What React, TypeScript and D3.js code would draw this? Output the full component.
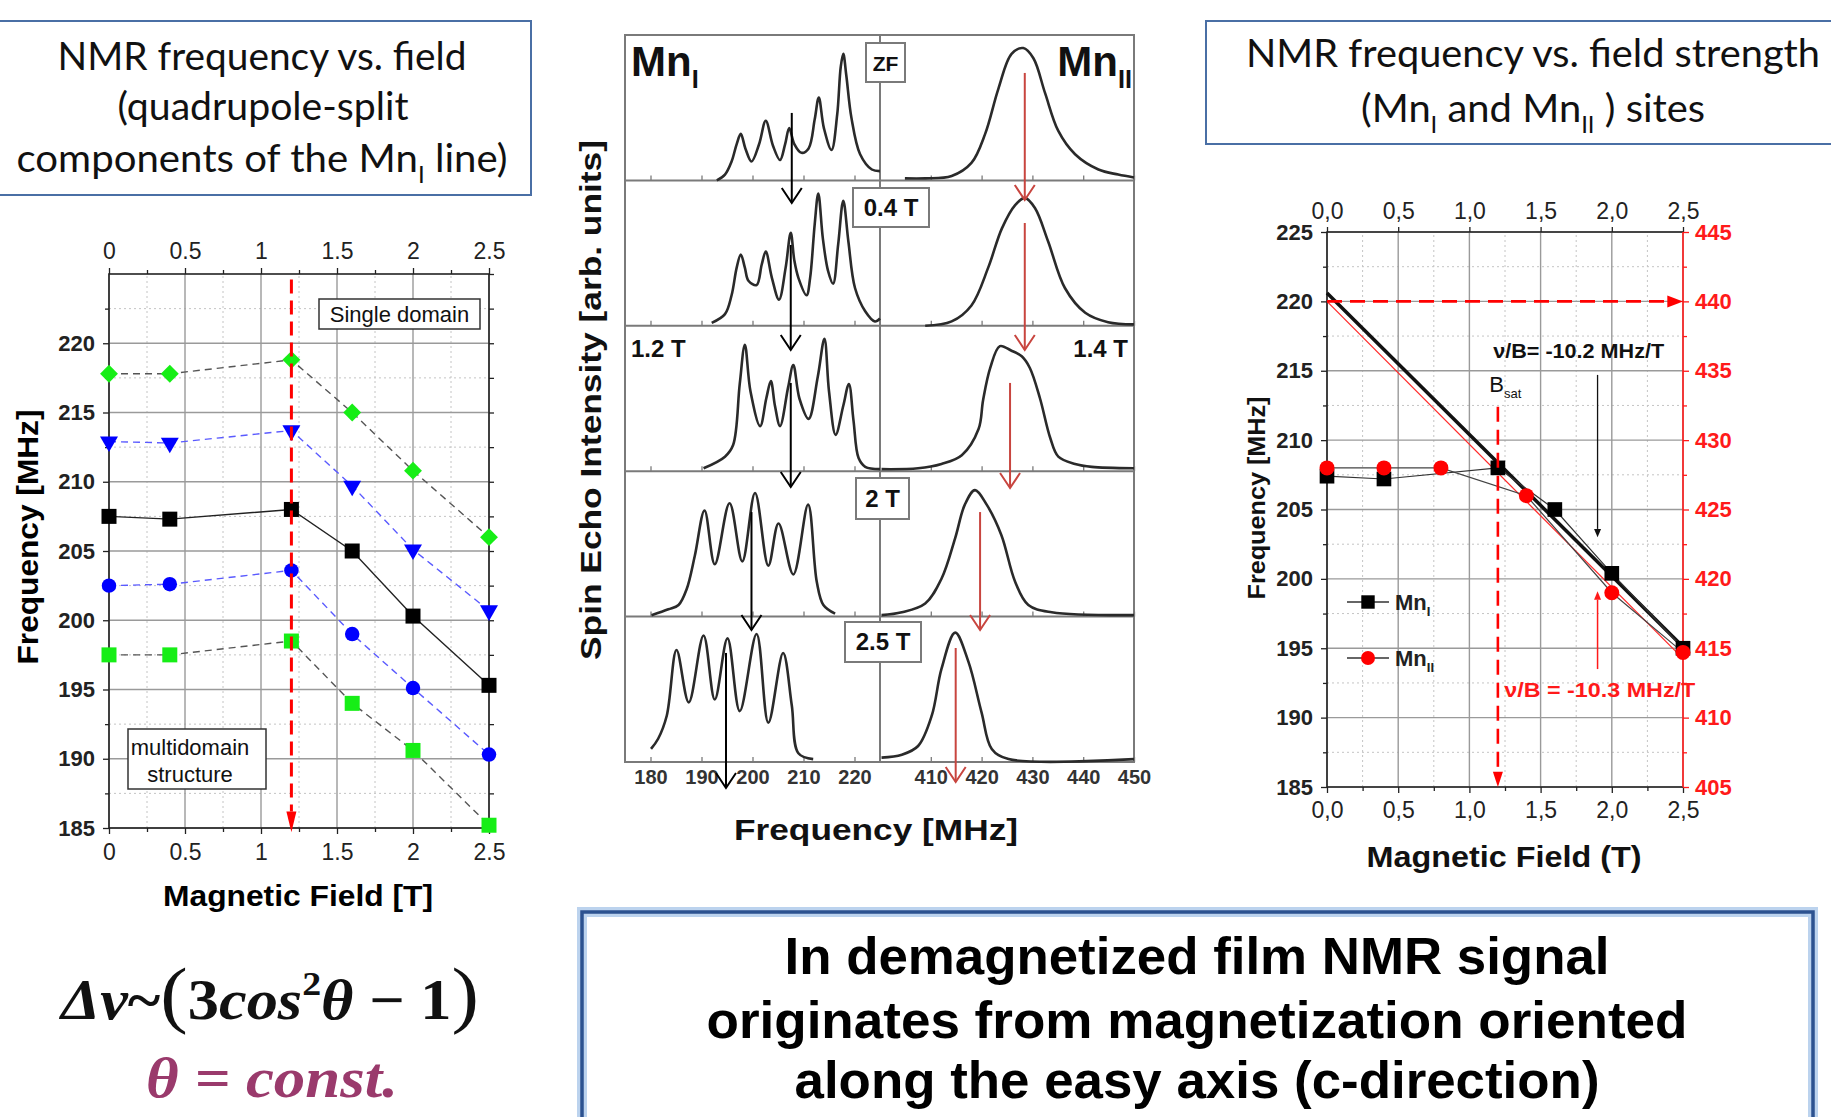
import React, { useEffect, useRef } from "react";
import * as d3 from "d3";

// ---- left chart: quadrupole-split components of the Mn_I line ----
const fieldQ = [0, 0.4, 1.2, 1.6, 2.0, 2.5];
const qGreenDiamond = [217.8, 217.8, 218.8, 215.0, 210.8, 206.0];
const qBlueTriangle = [212.9, 212.8, 213.7, 209.7, 205.1, 200.7];
const qBlackSquare = [207.5, 207.3, 208.0, 205.0, 200.3, 195.3];
const qBlueCircle = [202.5, 202.6, 203.6, 199.0, 195.1, 190.3];
const qGreenSquare = [197.5, 197.5, 198.5, 194.0, 190.6, 185.2];
const fieldTicksQ = [0, 0.5, 1, 1.5, 2, 2.5];
const freqTicksQ = [185, 190, 195, 200, 205, 210, 215, 220];
const bSat = 1.2;

// ---- middle: spin echo spectra (freq MHz, relative intensity in row) ----
const spectraLabels = ["ZF", "0.4 T", "1.2 T", "2 T", "2.5 T"];
const mnI_ZF = [[193.0, 0], [194.6, 0.04], [195.9, 0.13], [196.9, 0.25], [197.7, 0.32], [198.6, 0.22], [199.8, 0.13], [201.3, 0.25], [202.6, 0.41], [204.0, 0.24], [205.4, 0.14], [206.4, 0.25], [207.2, 0.36], [208.2, 0.25], [209.6, 0.19], [211.0, 0.22], [212.2, 0.42], [213.0, 0.57], [214.0, 0.36], [215.5, 0.21], [216.6, 0.45], [217.3, 0.78], [217.8, 0.87], [218.4, 0.72], [219.4, 0.43], [221.1, 0.18], [223.4, 0.075], [225, 0.064]];
const mnI_04 = [[192.0, 0.02], [194.6, 0.08], [195.9, 0.21], [196.9, 0.4], [197.7, 0.49], [198.5, 0.4], [199.2, 0.31], [200.8, 0.28], [201.8, 0.42], [202.6, 0.51], [203.8, 0.33], [205.2, 0.18], [206.5, 0.4], [207.5, 0.64], [208.2, 0.45], [209.0, 0.33], [210.6, 0.21], [211.3, 0.33], [212.2, 0.7], [212.9, 0.91], [213.8, 0.6], [214.8, 0.38], [215.8, 0.29], [216.8, 0.56], [217.8, 0.86], [218.8, 0.58], [220.1, 0.26], [222.1, 0.1], [224.0, 0.03], [225, 0.05]];
const mnI_12 = [[190.4, 0.02], [194.6, 0.1], [196.2, 0.18], [197.5, 0.6], [198.5, 0.87], [199.6, 0.55], [201.5, 0.31], [202.7, 0.5], [203.6, 0.62], [204.4, 0.45], [205.4, 0.31], [207.0, 0.58], [208.0, 0.73], [209.2, 0.5], [211.0, 0.36], [212.8, 0.65], [214.1, 0.91], [215.0, 0.55], [216.3, 0.25], [217.8, 0.45], [218.9, 0.6], [219.8, 0.35], [220.8, 0.09], [222.1, 0.03], [225, 0.014]];
const mnI_20 = [[180.2, 0.01], [183.5, 0.05], [185.5, 0.08], [187.1, 0.19], [188.7, 0.42], [190.6, 0.73], [192.6, 0.36], [195.5, 0.78], [198.0, 0.38], [200.5, 0.85], [203.1, 0.35], [205.1, 0.64], [208.0, 0.29], [210.9, 0.77], [212.6, 0.24], [213.9, 0.08], [216.2, 0.02]];
const mnI_25 = [[180.1, 0.09], [181.5, 0.16], [183.2, 0.32], [185.1, 0.77], [187.5, 0.41], [190.4, 0.87], [192.6, 0.43], [195.1, 0.85], [197.5, 0.35], [200.8, 0.88], [203.1, 0.27], [206.0, 0.75], [207.7, 0.39], [209.0, 0.06], [211.9, 0.02]];
const mnII_ZF = [[404.9, 0.014], [408.9, 0.014], [414.1, 0.03], [418.0, 0.12], [420.7, 0.32], [423.3, 0.63], [425.9, 0.87], [428.2, 0.91], [430.2, 0.84], [432.5, 0.6], [435.1, 0.34], [438.4, 0.18], [443.0, 0.075], [446.9, 0.04], [450, 0.02]];
const mnII_04 = [[408.9, 0.0], [414.1, 0.03], [418.0, 0.14], [421.3, 0.4], [424.0, 0.67], [426.6, 0.83], [428.5, 0.88], [430.5, 0.81], [433.1, 0.58], [436.4, 0.26], [440.4, 0.09], [444.9, 0.025], [450, 0.01]];
const mnII_12 = [[400.3, 0.014], [407.5, 0.02], [412.1, 0.05], [416.1, 0.11], [419.4, 0.29], [420.3, 0.49], [421.7, 0.71], [423.6, 0.86], [425.8, 0.83], [427.9, 0.79], [429.5, 0.71], [431.5, 0.5], [433.5, 0.23], [435.1, 0.1], [438.4, 0.05], [441.7, 0.03], [450, 0.02]];
const mnII_20 = [[400.3, 0.01], [404.3, 0.03], [408.9, 0.09], [412.1, 0.26], [414.8, 0.54], [416.7, 0.77], [418.7, 0.87], [421.0, 0.77], [423.9, 0.56], [426.6, 0.24], [429.2, 0.08], [433.8, 0.03], [450, 0.01]];
const mnII_25 = [[400.3, 0.03], [404.3, 0.05], [407.5, 0.11], [410.2, 0.32], [412.1, 0.64], [414.8, 0.89], [417.4, 0.69], [420.0, 0.34], [422.0, 0.09], [425.3, 0.02], [450, 0.02]];
const mnISpectra = [mnI_ZF, mnI_04, mnI_12, mnI_20, mnI_25];
const mnIISpectra = [mnII_ZF, mnII_04, mnII_12, mnII_20, mnII_25];
const mnITicks = [180, 190, 200, 210, 220];
const mnIITicks = [410, 420, 430, 440, 450];
// [freq, start, end] with start/end in row units (0 = top of first row)
const mnIArrows = [[207.7, 0.536, 1.155], [207.5, 1.444, 2.166], [207.5, 2.393, 3.109], [199.8, 3.281, 4.092], [194.8, 4.25, 5.179]];
const mnIIArrows = [[428.5, 0.261, 1.135], [428.5, 1.293, 2.166], [425.6, 2.393, 3.116], [419.7, 3.281, 4.092], [414.9, 4.216, 5.138]];

// ---- right chart: Mn_I and Mn_II vs field ----
const fieldI = [0, 0.4, 1.2, 1.6, 2.0, 2.5];
const freqI = [207.4, 207.2, 208.0, 205.0, 200.4, 195.0];
const fieldII = [0, 0.4, 0.8, 1.4, 2.0, 2.5];
const freqII = [428.0, 428.0, 428.0, 426.0, 419.0, 414.7];
const fitI = [[0, 220.6], [2.5, 195.1]];
const fitII = [[0, 440.0], [2.5, 414.25]];
const fieldTicksR = [0, 0.5, 1, 1.5, 2, 2.5];
const freqTicksR = [185, 190, 195, 200, 205, 210, 215, 220, 225];
const freqTicksR2 = [405, 410, 415, 420, 425, 430, 435, 440, 445];

const ARIAL = "'Liberation Sans', Arial, sans-serif";
const CALIBRI = "Lato, 'Open Sans', sans-serif";
const SERIF = "'Liberation Serif', 'DejaVu Serif', serif";

function richText(g, x, y, parts, size, anchor = "start") {
  const t = g.append("text").attr("x", x).attr("y", y).attr("font-size", size).attr("text-anchor", anchor);
  let cur = 0;
  parts.forEach(([s, sub]) => {
    const shift = sub ? size * 0.28 : 0;
    t.append("tspan").attr("dy", shift - cur).attr("font-size", sub ? size * 0.6 : size).text(s);
    cur = shift;
  });
  return t;
}

function drawGrid(g, x, y, xMaj, xMin, yMaj, yMin) {
  const [y0, y1] = y.range();
  const [x0, x1] = x.range();
  xMin.forEach((v) =>
    g.append("line").attr("x1", x(v)).attr("x2", x(v)).attr("y1", y0).attr("y2", y1)
      .attr("stroke", "#c4c4c4").attr("stroke-dasharray", "2,3"));
  yMin.forEach((v) =>
    g.append("line").attr("x1", x0).attr("x2", x1).attr("y1", y(v)).attr("y2", y(v))
      .attr("stroke", "#c4c4c4").attr("stroke-dasharray", "2,3"));
  xMaj.forEach((v) =>
    g.append("line").attr("x1", x(v)).attr("x2", x(v)).attr("y1", y0).attr("y2", y1)
      .attr("stroke", "#9a9a9a").attr("stroke-width", 1.4));
  yMaj.forEach((v) =>
    g.append("line").attr("x1", x0).attr("x2", x1).attr("y1", y(v)).attr("y2", y(v))
      .attr("stroke", "#9a9a9a").attr("stroke-width", 1.4));
}

function styleAxis(sel, size, weight, color = "#222") {
  sel.select(".domain").remove();
  sel.attr("font-size", size).attr("font-family", ARIAL).attr("font-weight", weight);
  sel.selectAll("line").attr("stroke", color).attr("stroke-width", 1.3);
  sel.selectAll("text").attr("fill", color);
}

function marker(kind) {
  if (kind === "square") return d3.symbol(d3.symbolSquare, 225)();
  if (kind === "diamond") return d3.symbol(d3.symbolSquare, 160)();
  if (kind === "triangle") return d3.symbol(d3.symbolTriangle, 140)();
  return d3.symbol(d3.symbolCircle, 165)();
}

function drawLeftChart(svg) {
  const x = d3.scaleLinear().domain([0, 2.5]).range([109, 489]);
  const y = d3.scaleLinear().domain([185, 225]).range([828, 274]);
  const g = svg.append("g");
  drawGrid(g, x, y, fieldTicksQ, d3.range(0.25, 2.5, 0.5), freqTicksQ, d3.range(187.5, 225, 5));

  const fmt = (d) => String(d);
  g.append("g").attr("transform", `translate(0,${y(225)})`)
    .call(d3.axisTop(x).tickValues(fieldTicksQ).tickFormat(fmt).tickSize(6).tickPadding(9))
    .call((s) => styleAxis(s, 23, "normal"));
  g.append("g").attr("transform", `translate(0,${y(185)})`)
    .call(d3.axisBottom(x).tickValues(fieldTicksQ).tickFormat(fmt).tickSize(6).tickPadding(10))
    .call((s) => styleAxis(s, 23, "normal"));
  g.append("g").attr("transform", `translate(${x(0)},0)`)
    .call(d3.axisLeft(y).tickValues(freqTicksQ).tickSize(6).tickPadding(8))
    .call((s) => styleAxis(s, 22, "bold"));
  g.append("g").attr("transform", `translate(${x(2.5)},0)`)
    .call(d3.axisRight(y).tickValues(d3.range(185, 226, 2.5)).tickFormat(() => "").tickSize(5))
    .call((s) => styleAxis(s, 22, "normal"));
  [y(225), y(185)].forEach((py, i) =>
    g.append("g").attr("transform", `translate(0,${py})`)
      .call((i ? d3.axisBottom(x) : d3.axisTop(x)).tickValues(d3.range(0.25, 2.5, 0.5)).tickFormat(() => "").tickSize(4))
      .call((s) => styleAxis(s, 10, "normal")));
  g.append("g").attr("transform", `translate(${x(0)},0)`)
    .call(d3.axisLeft(y).tickValues(d3.range(187.5, 225, 5)).tickFormat(() => "").tickSize(4))
    .call((s) => styleAxis(s, 10, "normal"));
  g.append("rect").attr("x", x(0)).attr("y", y(225)).attr("width", x(2.5) - x(0)).attr("height", y(185) - y(225))
    .attr("fill", "none").attr("stroke", "#222").attr("stroke-width", 1.6);

  const series = [
    { vals: qGreenDiamond, color: "#16ee16", line: "#555", dash: "7,5", kind: "diamond" },
    { vals: qBlueTriangle, color: "#0000ff", line: "#5a5aff", dash: "7,5", kind: "triangle" },
    { vals: qBlackSquare, color: "#000", line: "#222", dash: null, kind: "square" },
    { vals: qBlueCircle, color: "#0000ff", line: "#5a5aff", dash: "7,5", kind: "circle" },
    { vals: qGreenSquare, color: "#16ee16", line: "#555", dash: "7,5", kind: "square" },
  ];
  const line = d3.line().x((d) => x(d[0])).y((d) => y(d[1]));
  series.forEach((s) => {
    const pts = fieldQ.map((f, i) => [f, s.vals[i]]);
    g.append("path").attr("d", line(pts)).attr("fill", "none").attr("stroke", s.line)
      .attr("stroke-width", 1.4).attr("stroke-dasharray", s.dash);
    const rot = s.kind === "diamond" ? 45 : s.kind === "triangle" ? 180 : 0;
    pts.forEach((p) =>
      g.append("path").attr("d", marker(s.kind)).attr("fill", s.color)
        .attr("transform", `translate(${x(p[0])},${y(p[1])}) rotate(${rot})`));
  });

  // B_sat marker line
  const bx = x(bSat);
  g.append("line").attr("x1", bx).attr("x2", bx).attr("y1", y(224.6)).attr("y2", y(186.2))
    .attr("stroke", "#ff0000").attr("stroke-width", 3).attr("stroke-dasharray", "14,7");
  g.append("path").attr("d", `M${bx - 5},${y(186.2)}L${bx + 5},${y(186.2)}L${bx},${y(184.7)}Z`).attr("fill", "#ff0000");

  const boxes = g.append("g").attr("font-family", ARIAL).attr("font-size", 22).attr("fill", "#111");
  boxes.append("rect").attr("x", 319).attr("y", 299).attr("width", 161).attr("height", 30)
    .attr("fill", "#fff").attr("stroke", "#333").attr("stroke-width", 1.5);
  boxes.append("text").attr("x", 399.5).attr("y", 322).attr("text-anchor", "middle").text("Single domain");
  boxes.append("rect").attr("x", 128).attr("y", 729).attr("width", 138).attr("height", 60)
    .attr("fill", "#fff").attr("stroke", "#333").attr("stroke-width", 1.5);
  boxes.append("text").attr("x", 190).attr("y", 755).attr("text-anchor", "middle").text("multidomain");
  boxes.append("text").attr("x", 190).attr("y", 782).attr("text-anchor", "middle").text("structure");

  svg.append("text").attr("x", 298).attr("y", 906).attr("text-anchor", "middle")
    .attr("font-family", ARIAL).attr("font-weight", "bold").attr("font-size", 29)
    .attr("textLength", 270).attr("lengthAdjust", "spacingAndGlyphs").text("Magnetic Field [T]");
  svg.append("text").attr("transform", "translate(38,537) rotate(-90)").attr("text-anchor", "middle")
    .attr("font-family", ARIAL).attr("font-weight", "bold").attr("font-size", 29)
    .attr("textLength", 255).attr("lengthAdjust", "spacingAndGlyphs").text("Frequency [MHz]");
}

function drawSpectra(svg) {
  const xI = d3.scaleLinear().domain([175, 225]).range([625, 880]);
  const xII = d3.scaleLinear().domain([400, 450]).range([880, 1134]);
  const rowY = d3.scaleLinear().domain([0, 5]).range([35, 762]);
  const g = svg.append("g");

  // frame and row separators
  g.append("rect").attr("x", 625).attr("y", rowY(0)).attr("width", 509).attr("height", rowY(5) - rowY(0))
    .attr("fill", "none").attr("stroke", "#7a7a7a").attr("stroke-width", 2);
  g.append("line").attr("x1", xI(225)).attr("x2", xI(225)).attr("y1", rowY(0)).attr("y2", rowY(5))
    .attr("stroke", "#7a7a7a").attr("stroke-width", 2);
  d3.range(1, 6).forEach((r) => {
    if (r < 5)
      g.append("line").attr("x1", 625).attr("x2", 1134).attr("y1", rowY(r)).attr("y2", rowY(r))
        .attr("stroke", "#7a7a7a").attr("stroke-width", 2);
    [[xI, mnITicks], [xII, mnIITicks]].forEach(([sc, tv]) => {
      const ax = g.append("g").attr("transform", `translate(0,${rowY(r)})`)
        .call(d3.axisBottom(sc).tickValues(tv).tickSizeInner(-5).tickSizeOuter(0).tickPadding(8)
          .tickFormat(r === 5 ? (d) => String(d) : () => ""));
      styleAxis(ax, 20, "bold", "#333");
      ax.selectAll("line").attr("stroke", "#7a7a7a");
    });
  });

  const curves = g.append("g").attr("fill", "none").attr("stroke", "#2a2a2a").attr("stroke-width", 2.6);
  d3.range(5).forEach((r) => {
    const yr = d3.scaleLinear().domain([0, 1]).range([rowY(r + 1), rowY(r)]);
    const lI = d3.line().x((d) => xI(d[0])).y((d) => yr(d[1])).curve(d3.curveCatmullRom.alpha(0.5));
    const lII = d3.line().x((d) => xII(d[0])).y((d) => yr(d[1])).curve(d3.curveCatmullRom.alpha(0.5));
    curves.append("path").attr("d", lI(mnISpectra[r]));
    curves.append("path").attr("d", lII(mnIISpectra[r]));
  });

  const arrow = (sc, a, color) => {
    const ax = sc(a[0]);
    const y0 = rowY(a[1]);
    const y1 = rowY(a[2]);
    g.append("line").attr("x1", ax).attr("x2", ax).attr("y1", y0).attr("y2", y1)
      .attr("stroke", color).attr("stroke-width", 2);
    g.append("path").attr("d", `M${ax - 10},${y1 - 15}L${ax},${y1}L${ax + 10},${y1 - 15}`)
      .attr("fill", "none").attr("stroke", color).attr("stroke-width", 2);
  };
  mnIArrows.forEach((a) => arrow(xI, a, "#000"));
  mnIIArrows.forEach((a) => arrow(xII, a, "#c8453f"));

  // field labels
  const lab = g.append("g").attr("font-family", ARIAL).attr("font-weight", "bold").attr("fill", "#111");
  const boxed = [
    [spectraLabels[0], 866, 43, 39, 39],
    [spectraLabels[1], 853, 188, 76, 39],
    [spectraLabels[3], 856, 478, 53, 41],
    [spectraLabels[4], 845, 622, 76, 40],
  ];
  boxed.forEach(([t, bx, by, bw, bh]) => {
    lab.append("rect").attr("x", bx).attr("y", by).attr("width", bw).attr("height", bh)
      .attr("fill", "#fff").attr("stroke", "#7a7a7a").attr("stroke-width", 2);
    lab.append("text").attr("x", bx + bw / 2).attr("y", by + bh / 2 + 8).attr("text-anchor", "middle")
      .attr("font-size", t === "ZF" ? 21 : 24).text(t);
  });
  lab.append("text").attr("x", 631).attr("y", 357).attr("font-size", 24).text(spectraLabels[2]);
  lab.append("text").attr("x", 1128).attr("y", 357).attr("font-size", 24).attr("text-anchor", "end").text("1.4 T");
  richText(lab, 631, 76, [["Mn", false], ["I", true]], 42);
  richText(lab, 1132, 76, [["Mn", false], ["II", true]], 42, "end");

  svg.append("text").attr("x", 876).attr("y", 840).attr("text-anchor", "middle")
    .attr("font-family", ARIAL).attr("font-weight", "bold").attr("font-size", 30).attr("fill", "#111")
    .attr("textLength", 284).attr("lengthAdjust", "spacingAndGlyphs").text("Frequency [MHz]");
  svg.append("text").attr("transform", "translate(601,400) rotate(-90)").attr("text-anchor", "middle")
    .attr("font-family", ARIAL).attr("font-weight", "bold").attr("font-size", 30).attr("fill", "#111")
    .attr("textLength", 520).attr("lengthAdjust", "spacingAndGlyphs").text("Spin Echo Intensity [arb. units]");
}

function drawRightChart(svg) {
  const x = d3.scaleLinear().domain([0, 2.5]).range([1327, 1683]);
  const y = d3.scaleLinear().domain([185, 225]).range([787, 232]);
  const y2 = d3.scaleLinear().domain([405, 445]).range([787, 232]);
  const g = svg.append("g");
  drawGrid(g, x, y, fieldTicksR, d3.range(0.25, 2.5, 0.5), freqTicksR, d3.range(187.5, 225, 5));

  const fmt = (d) => d3.format(".1f")(d).replace(".", ",");
  g.append("g").attr("transform", `translate(0,${y(225)})`)
    .call(d3.axisTop(x).tickValues(fieldTicksR).tickFormat(fmt).tickSize(5).tickPadding(8))
    .call((s) => styleAxis(s, 23, "normal"));
  g.append("g").attr("transform", `translate(0,${y(185)})`)
    .call(d3.axisBottom(x).tickValues(fieldTicksR).tickFormat(fmt).tickSize(6).tickPadding(9))
    .call((s) => styleAxis(s, 23, "normal"));
  g.append("g").attr("transform", `translate(0,${y(185)})`)
    .call(d3.axisBottom(x).tickValues(d3.range(0.25, 2.5, 0.5)).tickFormat(() => "").tickSize(4))
    .call((s) => styleAxis(s, 10, "normal"));
  g.append("g").attr("transform", `translate(${x(0)},0)`)
    .call(d3.axisLeft(y).tickValues(freqTicksR).tickSize(6).tickPadding(8))
    .call((s) => styleAxis(s, 22, "bold"));
  g.append("g").attr("transform", `translate(${x(0)},0)`)
    .call(d3.axisLeft(y).tickValues(d3.range(187.5, 225, 5)).tickFormat(() => "").tickSize(4))
    .call((s) => styleAxis(s, 10, "normal"));
  g.append("g").attr("transform", `translate(${x(2.5)},0)`)
    .call(d3.axisRight(y2).tickValues(freqTicksR2).tickSize(6).tickPadding(6))
    .call((s) => styleAxis(s, 22, "bold", "#ff1a1a"));
  g.append("g").attr("transform", `translate(${x(2.5)},0)`)
    .call(d3.axisRight(y2).tickValues(d3.range(407.5, 445, 5)).tickFormat(() => "").tickSize(4))
    .call((s) => styleAxis(s, 10, "normal", "#ff1a1a"));
  g.append("path").attr("d", `M${x(2.5)},${y(225)}H${x(0)}V${y(185)}H${x(2.5)}`)
    .attr("fill", "none").attr("stroke", "#222").attr("stroke-width", 1.6);
  g.append("line").attr("x1", x(2.5)).attr("x2", x(2.5)).attr("y1", y(225)).attr("y2", y(185))
    .attr("stroke", "#ff1a1a").attr("stroke-width", 1.6);

  const lineI = d3.line().x((d) => x(d[0])).y((d) => y(d[1]));
  const lineII = d3.line().x((d) => x(d[0])).y((d) => y2(d[1]));
  g.append("path").attr("d", lineI(fitI)).attr("stroke", "#111").attr("stroke-width", 3.5).attr("fill", "none");
  g.append("path").attr("d", lineII(fitII)).attr("stroke", "#ff2a2a").attr("stroke-width", 1.3).attr("fill", "none");
  const ptsI = fieldI.map((f, i) => [f, freqI[i]]);
  const ptsII = fieldII.map((f, i) => [f, freqII[i]]);
  g.append("path").attr("d", lineI(ptsI)).attr("stroke", "#333").attr("stroke-width", 1.2).attr("fill", "none");
  g.append("path").attr("d", lineII(ptsII)).attr("stroke", "#444").attr("stroke-width", 1.2).attr("fill", "none");
  ptsI.forEach((p) =>
    g.append("path").attr("d", d3.symbol(d3.symbolSquare, 215)()).attr("fill", "#000")
      .attr("transform", `translate(${x(p[0])},${y(p[1])})`));
  ptsII.forEach((p) =>
    g.append("circle").attr("cx", x(p[0])).attr("cy", y2(p[1])).attr("r", 7.5).attr("fill", "#ff0000"));

  // dashed guides at 220 MHz and B_sat
  g.append("line").attr("x1", x(0)).attr("x2", x(2.42)).attr("y1", y(220)).attr("y2", y(220))
    .attr("stroke", "#ff0000").attr("stroke-width", 2.6).attr("stroke-dasharray", "15,8");
  g.append("path").attr("d", `M${x(2.39)},${y(220) - 6}L${x(2.5)},${y(220)}L${x(2.39)},${y(220) + 6}Z`).attr("fill", "#ff0000");
  g.append("line").attr("x1", x(bSat)).attr("x2", x(bSat)).attr("y1", y(212.4)).attr("y2", y(186))
    .attr("stroke", "#ff0000").attr("stroke-width", 2.6).attr("stroke-dasharray", "15,8");
  g.append("path").attr("d", `M${x(bSat) - 5},${y(186.1)}L${x(bSat) + 5},${y(186.1)}L${x(bSat)},${y(185)}Z`).attr("fill", "#ff0000");

  // slope annotations
  const ann = g.append("g").attr("font-family", ARIAL).attr("font-weight", "bold");
  ann.append("text").attr("x", x(1.167)).attr("y", y(215.9)).attr("font-size", 20).attr("fill", "#111")
    .attr("textLength", 171).attr("lengthAdjust", "spacingAndGlyphs").text("ν/B= -10.2 MHz/T");
  ann.append("text").attr("x", x(1.245)).attr("y", y(191.5)).attr("font-size", 21).attr("fill", "#ff1a1a")
    .attr("textLength", 191).attr("lengthAdjust", "spacingAndGlyphs").text("ν/B = -10.3 MHz/T");
  const bs = richText(ann.append("g").attr("fill", "#111").attr("font-weight", "normal"), x(1.14), y(213.5), [["B", false], ["sat", true]], 22);
  bs.select("tspan:last-child").attr("font-size", 13);
  g.append("line").attr("x1", x(1.9)).attr("x2", x(1.9)).attr("y1", y(214.7)).attr("y2", y(203.6))
    .attr("stroke", "#111").attr("stroke-width", 1.3);
  g.append("path").attr("d", `M${x(1.9) - 3.5},${y(203.6)}L${x(1.9) + 3.5},${y(203.6)}L${x(1.9)},${y(203.0)}Z`).attr("fill", "#111");
  g.append("line").attr("x1", x(1.9)).attr("x2", x(1.9)).attr("y1", y(193.5)).attr("y2", y(198.5))
    .attr("stroke", "#ff1a1a").attr("stroke-width", 1.5);
  g.append("path").attr("d", `M${x(1.9) - 3.5},${y(198.5)}L${x(1.9) + 3.5},${y(198.5)}L${x(1.9)},${y(199.1)}Z`).attr("fill", "#ff1a1a");

  // legend
  const lg = g.append("g").attr("font-family", ARIAL).attr("font-weight", "bold").attr("fill", "#222");
  [[602, "I"], [658, "II"]].forEach(([ly, sub], i) => {
    lg.append("line").attr("x1", 1347).attr("x2", 1389).attr("y1", ly).attr("y2", ly).attr("stroke", "#333").attr("stroke-width", 1.3);
    if (i === 0)
      lg.append("path").attr("d", d3.symbol(d3.symbolSquare, 180)()).attr("transform", `translate(1368,${ly})`).attr("fill", "#000");
    else lg.append("circle").attr("cx", 1368).attr("cy", ly).attr("r", 7).attr("fill", "#ff0000");
    richText(lg, 1395, ly + 8, [["Mn", false], [sub, true]], 22);
  });

  svg.append("text").attr("x", 1504).attr("y", 867).attr("text-anchor", "middle")
    .attr("font-family", ARIAL).attr("font-weight", "bold").attr("font-size", 29).attr("fill", "#111")
    .attr("textLength", 275).attr("lengthAdjust", "spacingAndGlyphs").text("Magnetic Field (T)");
  svg.append("text").attr("transform", "translate(1265,498) rotate(-90)").attr("text-anchor", "middle")
    .attr("font-family", ARIAL).attr("font-weight", "bold").attr("font-size", 24).attr("fill", "#111")
    .attr("textLength", 203).attr("lengthAdjust", "spacingAndGlyphs").text("Frequency [MHz]");
}

function drawTexts(svg) {
  // title boxes
  const tb = svg.append("g").attr("font-family", CALIBRI).attr("fill", "#111");
  tb.append("rect").attr("x", -2).attr("y", 21).attr("width", 533).attr("height", 174)
    .attr("fill", "#fff").attr("stroke", "#4a6fa5").attr("stroke-width", 2);
  tb.append("text").attr("x", 262).attr("y", 70).attr("text-anchor", "middle").attr("font-size", 38)
    .attr("textLength", 409).attr("lengthAdjust", "spacingAndGlyphs").text("NMR frequency vs. field");
  tb.append("text").attr("x", 263).attr("y", 120).attr("text-anchor", "middle").attr("font-size", 38)
    .attr("textLength", 291).attr("lengthAdjust", "spacingAndGlyphs").text("(quadrupole-split");
  richText(tb, 262, 172, [["components of the  Mn", false], ["I", true], [" line)", false]], 38, "middle")
    .attr("textLength", 491).attr("lengthAdjust", "spacingAndGlyphs");

  tb.append("rect").attr("x", 1206).attr("y", 21).attr("width", 640).attr("height", 123)
    .attr("fill", "#fff").attr("stroke", "#4a6fa5").attr("stroke-width", 2);
  tb.append("text").attr("x", 1533).attr("y", 67).attr("text-anchor", "middle").attr("font-size", 38)
    .attr("textLength", 574).attr("lengthAdjust", "spacingAndGlyphs").text("NMR frequency vs. field  strength");
  richText(tb, 1533, 122, [["(Mn", false], ["I", true], [" and Mn", false], ["II", true], [" ) sites", false]], 38, "middle")
    .attr("textLength", 344).attr("lengthAdjust", "spacingAndGlyphs");

  // formula
  const f = svg.append("text").attr("x", 61).attr("y", 1019).attr("font-family", SERIF)
    .attr("font-weight", "bold").attr("font-size", 56).attr("fill", "#111")
    .attr("textLength", 418).attr("lengthAdjust", "spacingAndGlyphs");
  f.append("tspan").attr("font-style", "italic").text("Δν");
  f.append("tspan").text("~");
  f.append("tspan").attr("font-size", 74).attr("font-weight", "normal").text("(");
  f.append("tspan").text("3");
  f.append("tspan").attr("font-style", "italic").text("cos");
  f.append("tspan").attr("font-size", 34).attr("dy", -24).text("2");
  f.append("tspan").attr("font-style", "italic").attr("dy", 24).text("θ");
  f.append("tspan").text(" − 1");
  f.append("tspan").attr("font-size", 74).attr("font-weight", "normal").text(")");
  svg.append("text").attr("x", 146).attr("y", 1097).attr("font-family", SERIF).attr("font-weight", "bold")
    .attr("font-style", "italic").attr("font-size", 58).attr("fill", "#9a3a6c")
    .attr("textLength", 252).attr("lengthAdjust", "spacingAndGlyphs").text("θ = const.");

  // conclusion box
  const cb = svg.append("g");
  cb.append("rect").attr("x", 582).attr("y", 912).attr("width", 1231).attr("height", 240)
    .attr("fill", "#fff").attr("stroke", "#bcd3ee").attr("stroke-width", 10);
  cb.append("rect").attr("x", 582).attr("y", 912).attr("width", 1231).attr("height", 240)
    .attr("fill", "none").attr("stroke", "#2c5290").attr("stroke-width", 3.5);
  const lines = [
    ["In demagnetized film NMR signal", 974, 825],
    ["originates from magnetization oriented", 1038, 981],
    ["along the easy axis (c-direction)", 1098, 805],
  ];
  lines.forEach(([t, ly, w]) =>
    cb.append("text").attr("x", 1197).attr("y", ly).attr("text-anchor", "middle").attr("font-family", ARIAL)
      .attr("font-weight", "bold").attr("font-size", 52).attr("fill", "#000")
      .attr("textLength", w).attr("lengthAdjust", "spacingAndGlyphs").text(t));
}

export default function App() {
  const ref = useRef(null);
  useEffect(() => {
    const svg = d3.select(ref.current);
    svg.selectAll("*").remove();
    svg.append("rect").attr("width", 1831).attr("height", 1117).attr("fill", "#fff");
    drawLeftChart(svg);
    drawSpectra(svg);
    drawRightChart(svg);
    drawTexts(svg);
  }, []);
  return (
    <svg ref={ref} width={1831} height={1117} style={{ position: "absolute", left: 0, top: 0, display: "block" }} />
  );
}
